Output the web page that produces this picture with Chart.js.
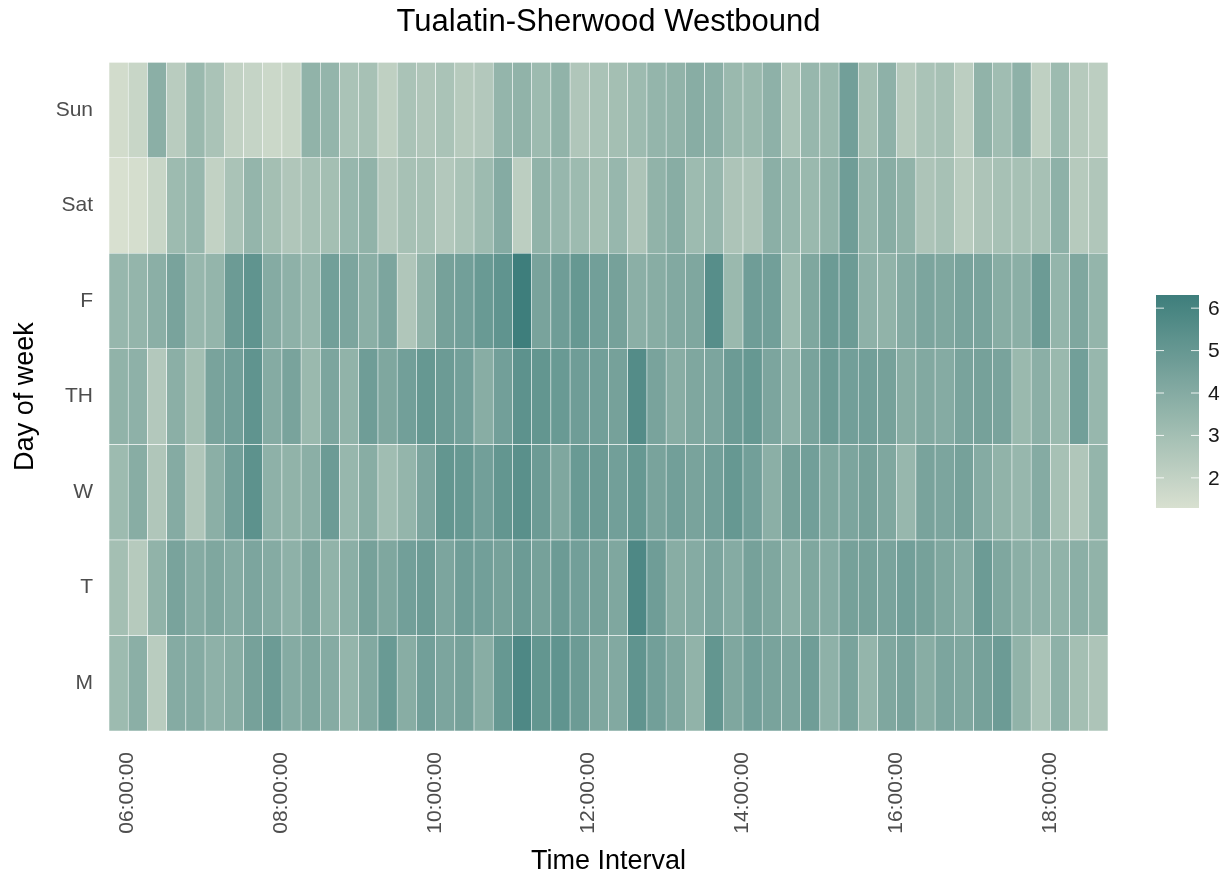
<!DOCTYPE html>
<html>
<head>
<meta charset="utf-8">
<title>Tualatin-Sherwood Westbound</title>
<script src="https://cdn.jsdelivr.net/npm/chart.js@4.4.1/dist/chart.umd.min.js"></script>
<style>
  html, body { margin: 0; padding: 0; background: #fff; }
  canvas { display: block; }
</style>
</head>
<body>
<canvas id="heat" width="1228" height="879"></canvas>
<script>
// rows from bottom to top
const DAYS = ['M', 'T', 'W', 'TH', 'F', 'Sat', 'Sun'];

const TIMES = [
  '06:00:00','06:15:00','06:30:00','06:45:00','07:00:00','07:15:00','07:30:00','07:45:00',
  '08:00:00','08:15:00','08:30:00','08:45:00','09:00:00','09:15:00','09:30:00','09:45:00',
  '10:00:00','10:15:00','10:30:00','10:45:00','11:00:00','11:15:00','11:30:00','11:45:00',
  '12:00:00','12:15:00','12:30:00','12:45:00','13:00:00','13:15:00','13:30:00','13:45:00',
  '14:00:00','14:15:00','14:30:00','14:45:00','15:00:00','15:15:00','15:30:00','15:45:00',
  '16:00:00','16:15:00','16:30:00','16:45:00','17:00:00','17:15:00','17:30:00','17:45:00',
  '18:00:00','18:15:00','18:30:00','18:45:00'
];
const TICK_LABELS = ['06:00:00', '08:00:00', '10:00:00', '12:00:00', '14:00:00', '16:00:00', '18:00:00'];

// values per 15 min interval, 06:00 .. 18:45
const mon = [3.2,3.8,2.3,4.0,4.0,3.7,3.9,4.5,4.8,4.0,4.2,4.0,3.5,4.1,4.9,3.9,4.6,
             4.3,4.5,3.9,5.0,5.8,5.1,5.2,4.8,4.2,4.1,5.2,4.6,4.2,3.6,5.1,4.2,4.6,4.4,
             4.3,4.7,3.7,4.4,3.5,4.2,4.4,3.9,4.3,4.2,4.5,4.8,3.6,2.8,3.7,3.0,2.7];
const tue = [3.0,2.4,3.6,4.4,4.0,4.2,4.0,4.3,4.0,3.7,4.2,3.6,3.8,4.5,4.2,4.6,4.8,
             4.3,4.7,4.6,4.5,4.8,4.5,4.8,4.6,4.5,4.2,5.8,4.7,3.9,4.0,4.3,4.0,4.5,4.2,
             3.8,4.2,4.0,4.5,4.5,4.4,4.6,4.5,4.2,4.0,4.8,4.2,3.8,3.7,3.6,3.8,3.6];
const wed = [3.2,3.9,2.6,4.0,2.6,3.8,4.6,5.3,3.7,3.6,3.8,4.8,3.4,3.9,3.1,3.5,4.3,
             5.1,5.0,4.6,5.1,5.4,4.8,4.2,4.9,4.8,4.6,5.0,4.4,4.6,4.4,4.6,5.0,4.6,3.8,
             4.5,4.6,4.2,4.3,4.5,4.2,3.4,4.4,4.3,4.5,4.0,3.6,3.4,4.0,2.9,2.6,3.5];
const thu = [3.6,3.7,2.5,3.8,3.0,4.4,4.6,5.2,4.0,4.4,3.3,4.3,3.6,4.7,4.2,4.6,5.0,
             4.8,4.6,3.9,4.6,5.3,5.1,4.9,4.7,4.6,4.5,5.6,4.4,3.9,4.2,4.3,4.8,5.0,4.3,
             3.7,4.4,4.8,4.6,4.6,4.5,3.9,4.1,4.0,4.4,4.5,4.4,3.3,3.8,3.3,4.6,3.4];
const fri = [3.4,3.5,3.8,4.4,3.4,3.5,4.8,5.2,4.0,3.7,3.4,4.6,4.3,3.8,4.3,2.6,3.6,
             4.5,4.6,4.9,5.2,6.3,4.4,4.7,5.0,4.6,4.5,3.8,3.9,4.1,4.2,5.5,3.3,4.7,4.6,
             3.2,4.2,4.8,4.8,3.7,3.6,4.0,4.3,4.2,4.4,4.4,3.9,3.8,4.8,3.5,4.2,3.5];
const sat = [1.3,1.4,1.8,3.2,3.4,2.0,2.8,3.5,3.0,2.6,2.9,3.0,3.4,3.6,2.5,2.9,2.9,
             2.5,2.8,3.2,4.0,2.2,3.6,3.4,3.2,3.0,3.4,2.7,3.6,3.9,3.2,3.4,2.7,2.7,3.8,
             3.4,3.3,3.6,4.7,3.5,3.9,3.6,2.7,2.9,2.3,2.7,2.9,2.9,2.9,3.7,2.4,2.6];
const sun = [1.5,1.8,3.8,2.3,3.3,2.8,2.0,1.9,1.7,1.8,3.6,3.5,2.8,2.9,2.1,2.8,2.6,
             2.8,2.4,2.5,3.5,3.6,3.2,3.6,2.6,2.8,3.0,3.2,3.5,3.6,3.9,3.8,3.3,3.3,3.7,
             2.8,3.4,3.3,4.6,3.0,3.7,2.4,2.8,2.9,2.2,3.6,3.1,3.7,2.1,3.2,2.4,2.2];
const ROWS = [mon, tue, wed, thu, fri, sat, sun];

const FILL_MIN = 1.29;
const FILL_MAX = 6.31;
const LEGEND_TICKS = [2, 3, 4, 5, 6];
const LOW_RGB = [216, 224, 208];
const HIGH_RGB = [62, 126, 124];

function fillColor(v) {
  let t = (v - FILL_MIN) / (FILL_MAX - FILL_MIN);
  t = Math.max(0, Math.min(1, t));
  const c = LOW_RGB.map((lo, k) => Math.round(lo + (HIGH_RGB[k] - lo) * t));
  return 'rgb(' + c.join(',') + ')';
}

Chart.defaults.font.family = "'Liberation Sans', Arial, sans-serif";

const whiteBg = {
  id: 'whiteBg',
  beforeDraw(chart) {
    const ctx = chart.ctx;
    ctx.save();
    ctx.fillStyle = '#fff';
    ctx.fillRect(0, 0, chart.width, chart.height);
    ctx.restore();
  }
};

// colour bar legend on the right
const colorBar = {
  id: 'colorBar',
  afterDraw(chart) {
    const ctx = chart.ctx;
    const x0 = 1156, x1 = 1199, yTop = 295, yBot = 508;
    const grad = ctx.createLinearGradient(0, yBot, 0, yTop);
    for (let s = 0; s <= 10; s++) {
      grad.addColorStop(s / 10, fillColor(FILL_MIN + (FILL_MAX - FILL_MIN) * s / 10));
    }
    ctx.save();
    ctx.fillStyle = grad;
    ctx.fillRect(x0, yTop, x1 - x0, yBot - yTop);
    ctx.strokeStyle = 'rgba(255,255,255,0.85)';
    ctx.lineWidth = 1;
    ctx.fillStyle = '#1a1a1a';
    ctx.font = "21px 'Liberation Sans', Arial, sans-serif";
    ctx.textAlign = 'left';
    ctx.textBaseline = 'middle';
    LEGEND_TICKS.forEach(t => {
      const y = yBot - (t - FILL_MIN) / (FILL_MAX - FILL_MIN) * (yBot - yTop);
      ctx.beginPath();
      ctx.moveTo(x0, y); ctx.lineTo(x0 + 8, y);
      ctx.moveTo(x1 - 8, y); ctx.lineTo(x1, y);
      ctx.stroke();
      ctx.fillText(String(t), x1 + 9, y + 1);
    });
    ctx.restore();
  }
};

const datasets = ROWS.map((row, i) => ({
  label: DAYS[i],
  data: row.map(() => 1),
  values: row,
  backgroundColor: row.map(fillColor),
  borderColor: 'rgba(255,255,255,0.7)',
  borderWidth: 0.6,
  borderSkipped: false,
  categoryPercentage: 1,
  barPercentage: 1
}));

new Chart(document.getElementById('heat'), {
  type: 'bar',
  data: { labels: TIMES, datasets: datasets },
  options: {
    responsive: false,
    animation: false,
    devicePixelRatio: 1,
    layout: { padding: { left: 0, right: 120, top: 0, bottom: 0 } },
    plugins: {
      legend: { display: false },
      tooltip: {
        callbacks: {
          label: c => c.dataset.label + ': ' + c.dataset.values[c.dataIndex]
        }
      },
      title: {
        display: true,
        text: 'Tualatin-Sherwood Westbound',
        color: '#000',
        fullSize: false,
        font: { size: 31, weight: 'normal' },
        padding: { top: 4, bottom: 21 }
      }
    },
    scales: {
      x: {
        stacked: true,
        grid: { display: false, drawTicks: false },
        border: { display: false },
        ticks: {
          autoSkip: false,
          minRotation: 90,
          maxRotation: 90,
          padding: 21,
          labelOffset: 9,
          color: '#4d4d4d',
          font: { size: 21 },
          callback: function (v, i) {
            return TICK_LABELS.includes(TIMES[i]) ? TIMES[i] : '';
          }
        },
        title: {
          display: true,
          text: 'Time Interval',
          color: '#000',
          font: { size: 27 },
          padding: { top: 0, bottom: 1 }
        },
        afterFit(s) { s.height = 148; }
      },
      y: {
        stacked: true,
        min: 0,
        max: 7,
        grid: { display: false, drawTicks: false },
        border: { display: false },
        afterBuildTicks(s) {
          s.ticks = DAYS.map((d, i) => ({ value: i + 0.5 }));
        },
        ticks: {
          padding: 16,
          color: '#4d4d4d',
          font: { size: 21 },
          callback: v => DAYS[Math.floor(v)]
        },
        title: {
          display: true,
          text: 'Day of week',
          color: '#000',
          font: { size: 27 },
          padding: { top: 9, bottom: 0 }
        },
        afterFit(s) { s.width = 109; }
      }
    }
  },
  plugins: [whiteBg, colorBar]
});
</script>
</body>
</html>
